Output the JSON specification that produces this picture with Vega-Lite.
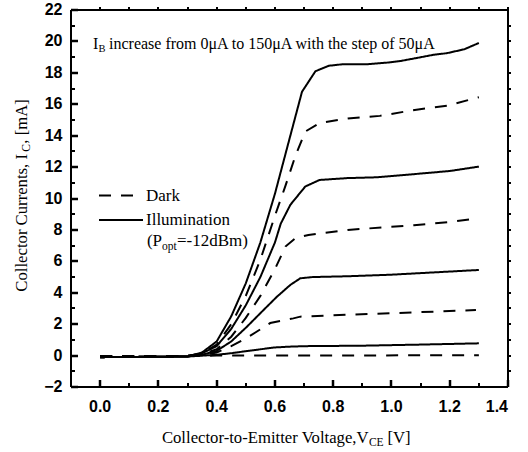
{
  "$schema": "https://vega.github.io/schema/vega-lite/v6.json",
  "width": 437,
  "height": 377,
  "autosize": "none",
  "padding": {"left": 71, "top": 10, "right": 20, "bottom": 65},
  "background": "white",
  "config": {"view": {"stroke": null}},
  "datasets": {
    "curves": [
      {"curve": "L150", "cond": "Illumination", "v": 0, "i": -0.1},
      {"curve": "L150", "cond": "Illumination", "v": 0.3, "i": -0.06},
      {"curve": "L150", "cond": "Illumination", "v": 0.35, "i": 0.2},
      {"curve": "L150", "cond": "Illumination", "v": 0.4, "i": 0.9},
      {"curve": "L150", "cond": "Illumination", "v": 0.45, "i": 2.5},
      {"curve": "L150", "cond": "Illumination", "v": 0.5, "i": 4.6},
      {"curve": "L150", "cond": "Illumination", "v": 0.55, "i": 7.2},
      {"curve": "L150", "cond": "Illumination", "v": 0.6, "i": 10.3},
      {"curve": "L150", "cond": "Illumination", "v": 0.65, "i": 13.8},
      {"curve": "L150", "cond": "Illumination", "v": 0.693, "i": 16.8},
      {"curve": "L150", "cond": "Illumination", "v": 0.739, "i": 18.1},
      {"curve": "L150", "cond": "Illumination", "v": 0.785, "i": 18.45},
      {"curve": "L150", "cond": "Illumination", "v": 0.834, "i": 18.55},
      {"curve": "L150", "cond": "Illumination", "v": 0.917, "i": 18.55},
      {"curve": "L150", "cond": "Illumination", "v": 0.985, "i": 18.65},
      {"curve": "L150", "cond": "Illumination", "v": 1.03, "i": 18.75},
      {"curve": "L150", "cond": "Illumination", "v": 1.088, "i": 18.95},
      {"curve": "L150", "cond": "Illumination", "v": 1.145, "i": 19.15},
      {"curve": "L150", "cond": "Illumination", "v": 1.19, "i": 19.25},
      {"curve": "L150", "cond": "Illumination", "v": 1.25, "i": 19.5},
      {"curve": "L150", "cond": "Illumination", "v": 1.3, "i": 19.9},
      {"curve": "D150", "cond": "Dark", "v": 0, "i": -0.02},
      {"curve": "D150", "cond": "Dark", "v": 0.3, "i": -0.02},
      {"curve": "D150", "cond": "Dark", "v": 0.35, "i": 0.15},
      {"curve": "D150", "cond": "Dark", "v": 0.4, "i": 0.7},
      {"curve": "D150", "cond": "Dark", "v": 0.45, "i": 2.0},
      {"curve": "D150", "cond": "Dark", "v": 0.5, "i": 3.8},
      {"curve": "D150", "cond": "Dark", "v": 0.55, "i": 6.1},
      {"curve": "D150", "cond": "Dark", "v": 0.6, "i": 8.9},
      {"curve": "D150", "cond": "Dark", "v": 0.636, "i": 10.8},
      {"curve": "D150", "cond": "Dark", "v": 0.67, "i": 12.7},
      {"curve": "D150", "cond": "Dark", "v": 0.704, "i": 14.26},
      {"curve": "D150", "cond": "Dark", "v": 0.753, "i": 14.8},
      {"curve": "D150", "cond": "Dark", "v": 0.85, "i": 15.1},
      {"curve": "D150", "cond": "Dark", "v": 0.96, "i": 15.26},
      {"curve": "D150", "cond": "Dark", "v": 1.08, "i": 15.64},
      {"curve": "D150", "cond": "Dark", "v": 1.19, "i": 15.9},
      {"curve": "D150", "cond": "Dark", "v": 1.3, "i": 16.45},
      {"curve": "L100", "cond": "Illumination", "v": 0, "i": -0.1},
      {"curve": "L100", "cond": "Illumination", "v": 0.3, "i": -0.06},
      {"curve": "L100", "cond": "Illumination", "v": 0.35, "i": 0.15},
      {"curve": "L100", "cond": "Illumination", "v": 0.4, "i": 0.6},
      {"curve": "L100", "cond": "Illumination", "v": 0.45, "i": 1.7},
      {"curve": "L100", "cond": "Illumination", "v": 0.5, "i": 3.2},
      {"curve": "L100", "cond": "Illumination", "v": 0.55, "i": 5.0},
      {"curve": "L100", "cond": "Illumination", "v": 0.6, "i": 7.2},
      {"curve": "L100", "cond": "Illumination", "v": 0.62, "i": 8.4},
      {"curve": "L100", "cond": "Illumination", "v": 0.653, "i": 9.6},
      {"curve": "L100", "cond": "Illumination", "v": 0.704, "i": 10.76},
      {"curve": "L100", "cond": "Illumination", "v": 0.753, "i": 11.18},
      {"curve": "L100", "cond": "Illumination", "v": 0.85, "i": 11.3},
      {"curve": "L100", "cond": "Illumination", "v": 0.95, "i": 11.35},
      {"curve": "L100", "cond": "Illumination", "v": 1.077, "i": 11.55},
      {"curve": "L100", "cond": "Illumination", "v": 1.2, "i": 11.75},
      {"curve": "L100", "cond": "Illumination", "v": 1.3, "i": 12.03},
      {"curve": "D100", "cond": "Dark", "v": 0, "i": -0.02},
      {"curve": "D100", "cond": "Dark", "v": 0.3, "i": -0.02},
      {"curve": "D100", "cond": "Dark", "v": 0.35, "i": 0.1},
      {"curve": "D100", "cond": "Dark", "v": 0.4, "i": 0.4},
      {"curve": "D100", "cond": "Dark", "v": 0.45, "i": 1.2},
      {"curve": "D100", "cond": "Dark", "v": 0.5, "i": 2.4},
      {"curve": "D100", "cond": "Dark", "v": 0.55, "i": 3.8},
      {"curve": "D100", "cond": "Dark", "v": 0.6, "i": 5.5},
      {"curve": "D100", "cond": "Dark", "v": 0.636, "i": 6.94},
      {"curve": "D100", "cond": "Dark", "v": 0.67, "i": 7.47},
      {"curve": "D100", "cond": "Dark", "v": 0.715, "i": 7.68},
      {"curve": "D100", "cond": "Dark", "v": 0.85, "i": 8.0},
      {"curve": "D100", "cond": "Dark", "v": 1.077, "i": 8.3},
      {"curve": "D100", "cond": "Dark", "v": 1.2, "i": 8.5},
      {"curve": "D100", "cond": "Dark", "v": 1.3, "i": 8.74},
      {"curve": "L50", "cond": "Illumination", "v": 0, "i": -0.1},
      {"curve": "L50", "cond": "Illumination", "v": 0.3, "i": -0.06},
      {"curve": "L50", "cond": "Illumination", "v": 0.35, "i": 0.05},
      {"curve": "L50", "cond": "Illumination", "v": 0.4, "i": 0.3},
      {"curve": "L50", "cond": "Illumination", "v": 0.45, "i": 0.9},
      {"curve": "L50", "cond": "Illumination", "v": 0.504, "i": 1.84},
      {"curve": "L50", "cond": "Illumination", "v": 0.55, "i": 2.7},
      {"curve": "L50", "cond": "Illumination", "v": 0.607, "i": 3.75},
      {"curve": "L50", "cond": "Illumination", "v": 0.653, "i": 4.5},
      {"curve": "L50", "cond": "Illumination", "v": 0.687, "i": 4.92},
      {"curve": "L50", "cond": "Illumination", "v": 0.73, "i": 5.0},
      {"curve": "L50", "cond": "Illumination", "v": 0.85, "i": 5.05},
      {"curve": "L50", "cond": "Illumination", "v": 1.0, "i": 5.15},
      {"curve": "L50", "cond": "Illumination", "v": 1.15, "i": 5.3},
      {"curve": "L50", "cond": "Illumination", "v": 1.3, "i": 5.45},
      {"curve": "D50", "cond": "Dark", "v": 0, "i": -0.02},
      {"curve": "D50", "cond": "Dark", "v": 0.3, "i": -0.02},
      {"curve": "D50", "cond": "Dark", "v": 0.35, "i": 0.03},
      {"curve": "D50", "cond": "Dark", "v": 0.4, "i": 0.2},
      {"curve": "D50", "cond": "Dark", "v": 0.45, "i": 0.6},
      {"curve": "D50", "cond": "Dark", "v": 0.51, "i": 1.2},
      {"curve": "D50", "cond": "Dark", "v": 0.584, "i": 2.07},
      {"curve": "D50", "cond": "Dark", "v": 0.663, "i": 2.37},
      {"curve": "D50", "cond": "Dark", "v": 0.687, "i": 2.48},
      {"curve": "D50", "cond": "Dark", "v": 0.85, "i": 2.6},
      {"curve": "D50", "cond": "Dark", "v": 1.0, "i": 2.7},
      {"curve": "D50", "cond": "Dark", "v": 1.15, "i": 2.8},
      {"curve": "D50", "cond": "Dark", "v": 1.29, "i": 2.9},
      {"curve": "L0", "cond": "Illumination", "v": 0, "i": -0.1},
      {"curve": "L0", "cond": "Illumination", "v": 0.3, "i": -0.06},
      {"curve": "L0", "cond": "Illumination", "v": 0.4, "i": 0.05},
      {"curve": "L0", "cond": "Illumination", "v": 0.45, "i": 0.15},
      {"curve": "L0", "cond": "Illumination", "v": 0.5, "i": 0.28},
      {"curve": "L0", "cond": "Illumination", "v": 0.55, "i": 0.4},
      {"curve": "L0", "cond": "Illumination", "v": 0.6, "i": 0.52},
      {"curve": "L0", "cond": "Illumination", "v": 0.653, "i": 0.57},
      {"curve": "L0", "cond": "Illumination", "v": 0.7, "i": 0.6},
      {"curve": "L0", "cond": "Illumination", "v": 0.9, "i": 0.63},
      {"curve": "L0", "cond": "Illumination", "v": 1.1, "i": 0.7},
      {"curve": "L0", "cond": "Illumination", "v": 1.3, "i": 0.78},
      {"curve": "D0", "cond": "Dark", "v": 0, "i": -0.02},
      {"curve": "D0", "cond": "Dark", "v": 0.3, "i": -0.02},
      {"curve": "D0", "cond": "Dark", "v": 0.4, "i": 0.0},
      {"curve": "D0", "cond": "Dark", "v": 1.3, "i": 0.02}
    ]
  },
  "layer": [
    {
      "data": {"name": "curves"},
      "mark": {"type": "line", "color": "black", "strokeWidth": 2},
      "encoding": {
        "x": {"field": "v", "type": "quantitative", "scale": {"domain": [-0.1, 1.4], "nice": false, "zero": false},
          "axis": {"orient": "bottom", "title": null, "grid": false, "values": [0, 0.2, 0.4, 0.6, 0.8, 1, 1.2, 1.4], "format": ".1f",
            "tickSize": -7, "labelPadding": 19, "labelFlush": true, "translate": 0,
            "domainColor": "#000000", "domainWidth": 2, "tickColor": "#000000", "tickWidth": 2.5,
            "labelFont": "Liberation Sans", "labelFontWeight": "bold", "labelFontSize": 16, "labelColor": "#000000"}},
        "y": {"field": "i", "type": "quantitative", "scale": {"domain": [-2, 22], "nice": false, "zero": false},
          "axis": {"orient": "left", "title": null, "grid": false, "values": [-2, 0, 2, 4, 6, 8, 10, 12, 14, 16, 18, 20, 22], "format": "d",
            "tickSize": -7, "labelPadding": 15.5, "labelFlush": false, "translate": 0,
            "domainColor": "#000000", "domainWidth": 2, "tickColor": "#000000", "tickWidth": 2.5,
            "labelFont": "Liberation Sans", "labelFontWeight": "bold", "labelFontSize": 16, "labelColor": "#000000"}},
        "detail": {"field": "curve", "type": "nominal"},
        "strokeDash": {"field": "cond", "type": "nominal",
          "scale": {"domain": ["Dark", "Illumination"], "range": [[12, 10], [1, 0]]},
          "legend": {"title": null, "orient": "none", "legendX": 27, "legendY": 177.6, "symbolType": "stroke", "symbolSize": 1936, "symbolStrokeWidth": 2, "symbolStrokeColor": "#000000", "labelFont": "Liberation Serif", "labelFontSize": 17, "labelColor": "#000000", "labelOffset": 2, "clipHeight": 16, "rowPadding": 7.5, "padding": 0, "labelLimit": 200}}
      }
    },
    {
      "data": {"name": "curves"},
      "mark": {"type": "line", "opacity": 0},
      "encoding": {
        "x": {"field": "v", "type": "quantitative", "axis": {"orient": "top", "title": null, "grid": false, "labels": false, "tickSize": 3, "translate": 0, "values": [0, 0.1, 0.2, 0.3, 0.4, 0.5, 0.6, 0.7, 0.8, 0.9, 1, 1.1, 1.2, 1.3, 1.4],
          "domainColor": "#000000", "domainWidth": 2, "tickColor": "#000000", "tickWidth": 2}},
        "y": {"field": "i", "type": "quantitative", "axis": {"orient": "right", "title": null, "grid": false, "labels": false, "tickSize": 3, "translate": 0, "values": [-1, 0, 1, 2, 3, 4, 5, 6, 7, 8, 9, 10, 11, 12, 13, 14, 15, 16, 17, 18, 19, 20, 21],
          "domainColor": "#000000", "domainWidth": 2, "tickColor": "#000000", "tickWidth": 2}},
        "detail": {"field": "curve", "type": "nominal"}
      }
    },
    {
      "data": {"name": "curves"},
      "mark": {"type": "line", "opacity": 0},
      "encoding": {
        "x": {"field": "v", "type": "quantitative", "axis": {"orient": "bottom", "title": null, "grid": false, "labels": false, "domain": false, "tickSize": -4, "translate": 0, "values": [0.1, 0.3, 0.5, 0.7, 0.9, 1.1, 1.3],
          "tickColor": "#000000", "tickWidth": 2}},
        "y": {"field": "i", "type": "quantitative", "axis": {"orient": "left", "title": null, "grid": false, "labels": false, "domain": false, "tickSize": -4, "translate": 0, "values": [-1, 1, 3, 5, 7, 9, 11, 13, 15, 17, 19, 21],
          "tickColor": "#000000", "tickWidth": 2}},
        "detail": {"field": "curve", "type": "nominal"}
      }
    },
    {
      "data": {"values": [{}]},
      "mark": {"type": "text", "text": "I", "font": "Liberation Serif", "fontSize": 16, "color": "#000000", "align": "left", "baseline": "alphabetic"},
      "encoding": {"x": {"datum": -0.0244, "type": "quantitative", "axis": null}, "y": {"datum": 19.5, "type": "quantitative", "axis": null}}
    },
    {
      "data": {"values": [{}]},
      "mark": {"type": "text", "text": "B", "font": "Liberation Serif", "fontSize": 10.5, "color": "#000000", "align": "left", "baseline": "alphabetic", "dx": 5.5, "dy": 3},
      "encoding": {"x": {"datum": -0.0244, "type": "quantitative", "axis": null}, "y": {"datum": 19.5, "type": "quantitative", "axis": null}}
    },
    {
      "data": {"values": [{}]},
      "mark": {"type": "text", "text": "increase from 0μA to 150μA with the step of 50μA", "font": "Liberation Serif", "fontSize": 16, "color": "#000000", "align": "left", "baseline": "alphabetic", "dx": 16},
      "encoding": {"x": {"datum": -0.0244, "type": "quantitative", "axis": null}, "y": {"datum": 19.5, "type": "quantitative", "axis": null}}
    },
    {
      "data": {"values": [{}]},
      "mark": {"type": "text", "text": "(P", "font": "Liberation Serif", "fontSize": 17, "color": "#000000", "align": "left", "baseline": "alphabetic"},
      "encoding": {"x": {"datum": 0.1605, "type": "quantitative", "axis": null}, "y": {"datum": 6.96, "type": "quantitative", "axis": null}}
    },
    {
      "data": {"values": [{}]},
      "mark": {"type": "text", "text": "opt", "font": "Liberation Serif", "fontSize": 11.5, "color": "#000000", "align": "left", "baseline": "alphabetic", "dx": 15.1, "dy": 4},
      "encoding": {"x": {"datum": 0.1605, "type": "quantitative", "axis": null}, "y": {"datum": 6.96, "type": "quantitative", "axis": null}}
    },
    {
      "data": {"values": [{}]},
      "mark": {"type": "text", "text": "=-12dBm)", "font": "Liberation Serif", "fontSize": 17, "color": "#000000", "align": "left", "baseline": "alphabetic", "dx": 30},
      "encoding": {"x": {"datum": 0.1605, "type": "quantitative", "axis": null}, "y": {"datum": 6.96, "type": "quantitative", "axis": null}}
    },
    {
      "data": {"values": [{}]},
      "mark": {"type": "text", "text": "Collector-to-Emitter Voltage,V", "font": "Liberation Serif", "fontSize": 16.7, "color": "#000000", "align": "left", "baseline": "alphabetic"},
      "encoding": {"x": {"datum": 0.212, "type": "quantitative", "axis": null}, "y": {"datum": -5.59, "type": "quantitative", "axis": null}}
    },
    {
      "data": {"values": [{}]},
      "mark": {"type": "text", "text": "CE", "font": "Liberation Serif", "fontSize": 11.5, "color": "#000000", "align": "left", "baseline": "alphabetic", "dx": 207, "dy": 3},
      "encoding": {"x": {"datum": 0.212, "type": "quantitative", "axis": null}, "y": {"datum": -5.59, "type": "quantitative", "axis": null}}
    },
    {
      "data": {"values": [{}]},
      "mark": {"type": "text", "text": "[V]", "font": "Liberation Serif", "fontSize": 16.7, "color": "#000000", "align": "left", "baseline": "alphabetic", "dx": 225.5},
      "encoding": {"x": {"datum": 0.212, "type": "quantitative", "axis": null}, "y": {"datum": -5.59, "type": "quantitative", "axis": null}}
    },
    {
      "data": {"values": [{}]},
      "mark": {"type": "text", "text": "Collector Currents, I", "font": "Liberation Serif", "fontSize": 16.7, "color": "#000000", "align": "left", "baseline": "alphabetic", "angle": 270},
      "encoding": {"x": {"datum": -0.251, "type": "quantitative", "axis": null}, "y": {"datum": 4.07, "type": "quantitative", "axis": null}}
    },
    {
      "data": {"values": [{}]},
      "mark": {"type": "text", "text": "C", "font": "Liberation Serif", "fontSize": 11.5, "color": "#000000", "align": "left", "baseline": "alphabetic", "angle": 270, "dx": 140, "dy": 3},
      "encoding": {"x": {"datum": -0.251, "type": "quantitative", "axis": null}, "y": {"datum": 4.07, "type": "quantitative", "axis": null}}
    },
    {
      "data": {"values": [{}]},
      "mark": {"type": "text", "text": ", [mA]", "font": "Liberation Serif", "fontSize": 16.7, "color": "#000000", "align": "left", "baseline": "alphabetic", "angle": 270, "dx": 148},
      "encoding": {"x": {"datum": -0.251, "type": "quantitative", "axis": null}, "y": {"datum": 4.07, "type": "quantitative", "axis": null}}
    }
  ],
  "resolve": {"axis": {"x": "independent", "y": "independent"}}
}
